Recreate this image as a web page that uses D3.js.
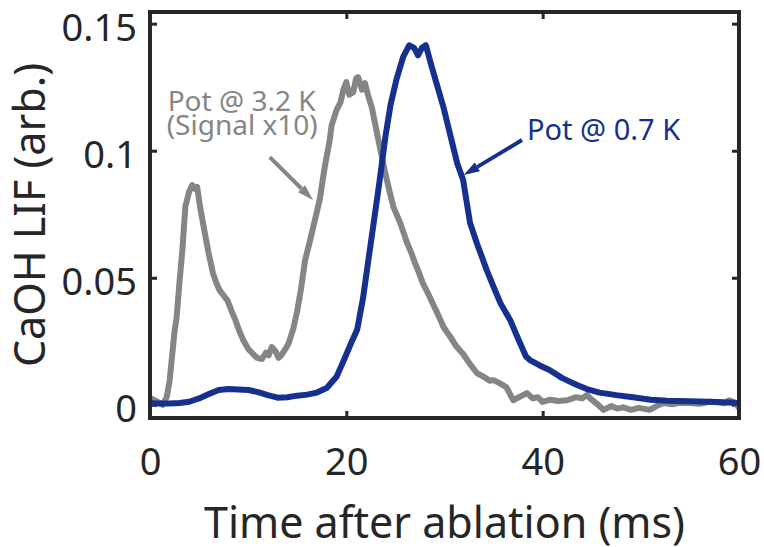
<!DOCTYPE html>
<html>
<head>
<meta charset="utf-8">
<script src="https://cdn.jsdelivr.net/npm/d3@7"></script>
<style>
  body { margin: 0; background: #fff; }
  text { font-family: "Noto Sans", "Open Sans", sans-serif; }
</style>
</head>
<body>
<div id="chart"></div>
<script>
// Pot @ 0.7 K (blue)
var blueTime = [0, 1, 2, 3, 4, 5, 6, 7, 8, 9, 10, 11, 12, 13, 14, 15, 16, 17, 18, 19, 19.8, 20.4, 21.1, 21.7, 22.2, 22.8, 23.4, 24.0, 24.5, 25.1, 25.8, 26.4, 26.9, 27.3, 27.7, 28.1, 28.7, 29.3, 29.9, 30.6, 31.3, 31.9, 32.6, 33.3, 34.3, 35.0, 35.7, 36.7, 37.5, 38.3, 38.7, 39.7, 40.7, 42, 43.5, 44.5, 45.8, 47.5, 49.2, 51, 52.7, 55, 57.8, 60];
var blueValue = [0.0006, 0.0005, 0.0005, 0.0007, 0.0012, 0.0025, 0.0042, 0.0058, 0.0062, 0.006, 0.0058, 0.005, 0.0038, 0.0028, 0.003, 0.0036, 0.004, 0.0048, 0.0066, 0.011, 0.018, 0.0235, 0.0295, 0.042, 0.0557, 0.072, 0.0885, 0.106, 0.118, 0.128, 0.137, 0.1415, 0.1405, 0.1375, 0.1405, 0.1415, 0.133, 0.125, 0.117, 0.106, 0.095, 0.0885, 0.0716, 0.0636, 0.053, 0.0464, 0.04, 0.0333, 0.026, 0.019, 0.0176, 0.0155, 0.0137, 0.0105, 0.0078, 0.0062, 0.0048, 0.0038, 0.003, 0.002, 0.0016, 0.0014, 0.0011, 0.0007];

// Pot @ 3.2 K, signal x10 (gray)
var grayTime = [0, 0.6, 1.3, 1.7, 2.0, 2.5, 2.7, 3.0, 3.3, 3.6, 4.0, 4.3, 4.6, 4.8, 5.1, 5.4, 5.9, 6.4, 6.8, 7.1, 7.5, 7.9, 8.3, 8.7, 9.1, 9.5, 10.0, 10.5, 10.9, 11.4, 11.8, 12.1, 12.4, 12.8, 13.1, 13.4, 13.8, 14.1, 14.6, 15.0, 15.4, 15.8, 16.2, 16.6, 17.0, 17.3, 17.8, 18.3, 18.5, 19.0, 19.4, 19.7, 20.0, 20.3, 20.7, 21.0, 21.2, 21.6, 21.9, 22.2, 22.6, 23.2, 23.9, 24.4, 24.8, 25.5, 26.2, 26.6, 27.0, 27.4, 27.8, 28.3, 28.8, 29.4, 29.9, 30.6, 31.2, 31.9, 32.6, 33.3, 34.0, 34.6, 35.0, 35.6, 36.3, 36.7, 37.0, 37.6, 38.4, 39.0, 39.5, 40.0, 40.8, 41.6, 42.5, 43.4, 44.0, 44.5, 45.0, 45.5, 46.2, 47.0, 47.6, 48.2, 49.0, 49.8, 50.9, 51.6, 52.3, 53.2, 54.0, 55.0, 56.0, 57.0, 57.8, 58.5, 59.0, 59.6, 60];
var grayValue = [0.0027, 0.0015, 0.0, 0.003, 0.0095, 0.029, 0.034, 0.048, 0.061, 0.078, 0.084, 0.0865, 0.085, 0.0857, 0.078, 0.0715, 0.061, 0.052, 0.0475, 0.045, 0.043, 0.041, 0.037, 0.0333, 0.029, 0.0255, 0.022, 0.020, 0.0185, 0.018, 0.0205, 0.0195, 0.0227, 0.021, 0.0185, 0.0196, 0.022, 0.024, 0.030, 0.037, 0.046, 0.057, 0.063, 0.0695, 0.076, 0.081, 0.0936, 0.104, 0.110, 0.116, 0.119, 0.124, 0.127, 0.122, 0.123, 0.1285, 0.129, 0.124, 0.1266, 0.122, 0.117, 0.1054, 0.0924, 0.084, 0.0778, 0.0715, 0.0636, 0.060, 0.0557, 0.052, 0.0478, 0.044, 0.0399, 0.035, 0.0306, 0.0267, 0.023, 0.020, 0.016, 0.0125, 0.011, 0.0095, 0.0097, 0.0085, 0.007, 0.004, 0.0018, 0.003, 0.0046, 0.0025, 0.003, 0.0011, 0.002, 0.0015, 0.0018, 0.003, 0.0025, 0.0038, 0.002, 0.0005, -0.002, -0.0005, -0.0015, -0.001, -0.002, -0.0012, -0.002, -0.0005, 0.0007, 0.0002, 0.0008, 0.0007, 0.0004, 0.0012, 0.001, 0.0006, 0.0018, 0.0008, -0.0013];

var xTicks = [0, 20, 40, 60];
var yTicks = [0, 0.05, 0.1, 0.15];
var yTickLabels = ['0', '0.05', '0.1', '0.15'];

var blueColor = '#15308f',
    grayColor = '#858585',
    axisColor = '#262626';

var W = 764, H = 547;
var margin = { top: 12, right: 25, bottom: 129, left: 150 },
    width = W - margin.left - margin.right,
    height = H - margin.top - margin.bottom;

var svg = d3.select('#chart').append('svg')
    .attr('width', W)
    .attr('height', H);

var g = svg.append('g')
    .attr('transform', 'translate(' + margin.left + ',' + margin.top + ')');

var x = d3.scaleLinear().domain([0, 60]).range([0, width]);
var y = d3.scaleLinear().domain([-0.0052, 0.1546]).range([height, 0]);

//Axes, ticks pointing inward
var xAxis = g.append('g')
    .attr('transform', 'translate(0,' + height + ')')
    .call(d3.axisBottom(x).tickValues(xTicks).tickSize(-7).tickPadding(30).tickFormat(d3.format('d')));

var yAxis = g.append('g')
    .call(d3.axisLeft(y).tickValues(yTicks).tickSize(-7).tickPadding(13)
        .tickFormat(function(d, i) { return yTickLabels[i]; }));

//Mirror ticks on top and right
g.append('g')
    .call(d3.axisTop(x).tickValues(xTicks).tickSize(-7).tickFormat(''));
g.append('g')
    .attr('transform', 'translate(' + width + ',0)')
    .call(d3.axisRight(y).tickValues(yTicks).tickSize(-7).tickFormat(''));

g.selectAll('.domain').remove();
g.selectAll('.tick line').attr('stroke', axisColor).attr('stroke-width', 3);
g.selectAll('.tick text')
    .attr('fill', axisColor)
    .style('font-size', '38px');
yAxis.selectAll('.tick text').attr('dy', '0.45em');

//Lines
var blueData = blueTime.map(function(t, i) { return [t, blueValue[i]]; });
var grayData = grayTime.map(function(t, i) { return [t, grayValue[i]]; });

var line = d3.line()
    .x(function(d) { return x(d[0]); })
    .y(function(d) { return y(d[1]); });

g.append('path')
    .datum(grayData)
    .attr('d', line)
    .attr('fill', 'none')
    .attr('stroke', grayColor)
    .attr('stroke-width', 6)
    .attr('stroke-linejoin', 'round');

g.append('path')
    .datum(blueData)
    .attr('d', line)
    .attr('fill', 'none')
    .attr('stroke', blueColor)
    .attr('stroke-width', 6)
    .attr('stroke-linejoin', 'round');

//Box
g.append('rect')
    .attr('x', 0).attr('y', 0)
    .attr('width', width).attr('height', height)
    .attr('fill', 'none')
    .attr('stroke', axisColor)
    .attr('stroke-width', 4);

//Annotations
function arrow(x1, y1, x2, y2, color) {
    var ax1 = x(x1), ay1 = y(y1), ax2 = x(x2), ay2 = y(y2);
    var ang = Math.atan2(ay2 - ay1, ax2 - ax1);
    var len = 16, half = 5;
    var bx = ax2 - len * Math.cos(ang), by = ay2 - len * Math.sin(ang);
    g.append('line')
        .attr('x1', ax1).attr('y1', ay1)
        .attr('x2', bx).attr('y2', by)
        .attr('stroke', color).attr('stroke-width', 4);
    var pts = [
        [ax2, ay2],
        [bx - half * Math.sin(ang), by + half * Math.cos(ang)],
        [bx + half * Math.sin(ang), by - half * Math.cos(ang)]
    ];
    g.append('polygon')
        .attr('points', pts.map(function(p) { return p.join(','); }).join(' '))
        .attr('fill', color);
}

arrow(12.2, 0.0975, 16.6, 0.0806, grayColor);
arrow(37.9, 0.1042, 31.95, 0.0904, blueColor);

var note = g.append('text')
    .attr('fill', grayColor)
    .style('font-size', '28px');
note.append('tspan')
    .attr('x', x(1.8)).attr('y', y(0.1157))
    .text('Pot @ 3.2 K');
note.append('tspan')
    .attr('x', x(1.7)).attr('y', y(0.1062))
    .text('(Signal x10)');

g.append('text')
    .attr('x', x(38.4)).attr('y', y(0.1042))
    .attr('fill', blueColor)
    .style('font-size', '29px')
    .text('Pot @ 0.7 K');

//Axis titles
svg.append('text')
    .attr('x', margin.left + width / 2)
    .attr('y', 538)
    .attr('text-anchor', 'middle')
    .attr('fill', axisColor)
    .style('font-size', '43px')
    .text('Time after ablation (ms)');

svg.append('text')
    .attr('transform', 'translate(45,' + (margin.top + height / 2) + ') rotate(-90)')
    .attr('text-anchor', 'middle')
    .attr('fill', axisColor)
    .style('font-size', '43px')
    .text('CaOH LIF (arb.)');
</script>
</body>
</html>
